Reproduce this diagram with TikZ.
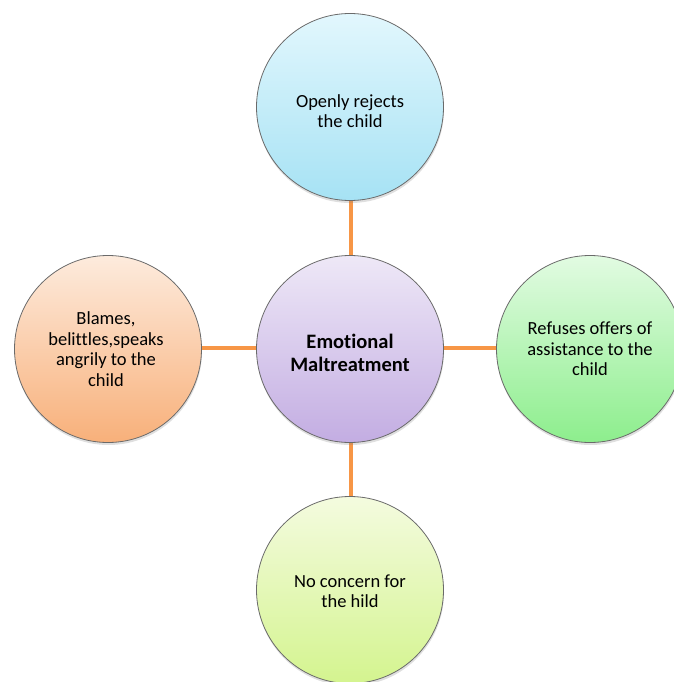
\documentclass[tikz,border=0pt]{standalone}
\usepackage{fontspec}
\setmainfont{Carlito}[Ligatures=NoCommon]
\usetikzlibrary{shadows,backgrounds}
\definecolor{edgegray}{HTML}{6A6A6A}
\definecolor{linkorange}{HTML}{F79646}
\definecolor{blueT}{HTML}{E2F7FD}\definecolor{blueB}{HTML}{A6E2F4}
\definecolor{purpT}{HTML}{EEE8F7}\definecolor{purpB}{HTML}{C3ADE2}
\definecolor{orT}{HTML}{FDEBDD}\definecolor{orB}{HTML}{F8B07A}
\definecolor{grT}{HTML}{E2FBE2}\definecolor{grB}{HTML}{8DEE8D}
\definecolor{ylT}{HTML}{F4FBDF}\definecolor{ylB}{HTML}{D4F48F}
\tikzset{
  bubble/.style={circle, draw=edgegray, line width=0.8pt, inner sep=0pt, minimum size=187pt,
    drop shadow={shadow xshift=0.5pt, shadow yshift=-2.5pt, opacity=0.25}},
  txt/.style={align=center, inner sep=0pt, font=\fontsize{18.5}{20.5}\selectfont},
  boldtxt/.style={align=center, inner sep=0pt, font=\fontsize{20.5}{23}\selectfont\bfseries},
  link/.style={draw=linkorange, line width=4.5pt}
}
\begin{document}
\begin{tikzpicture}[x=1pt,y=1pt]
\useasboundingbox (0,0) rectangle (673,-682);
\node[bubble, top color=blueT, bottom color=blueB] (top) at (350,-107) {};
\node[bubble, top color=purpT, bottom color=purpB] (mid) at (350,-349) {};
\node[bubble, top color=orT, bottom color=orB] (left) at (108,-349) {};
\node[bubble, top color=grT, bottom color=grB] (right) at (590,-349) {};
\node[bubble, top color=ylT, bottom color=ylB] (bot) at (350,-590) {};
\node[txt] (topT) at ([yshift=-4pt]top.center) {Openly rejects\\the child};
\node[boldtxt] (midT) at ([yshift=-4pt]mid.center) {Emotional\\Maltreatment};
\node[txt] (leftT) at ([xshift=-2pt]left.center) {Blames,\\belittles,speaks\\angrily to the\\child};
\node[txt] (rightT) at (right.center) {Refuses offers of\\assistance to the\\child};
\node[txt] (botT) at ([yshift=-1pt]bot.center) {No concern for\\the hild};
\begin{scope}[on background layer]
\coordinate (vx) at (351,-348);
\draw[link] (top.center -| vx) -- (bot.center -| vx);
\draw[link] (left.center |- vx) -- (right.center |- vx);
\end{scope}
\end{tikzpicture}
\end{document}
